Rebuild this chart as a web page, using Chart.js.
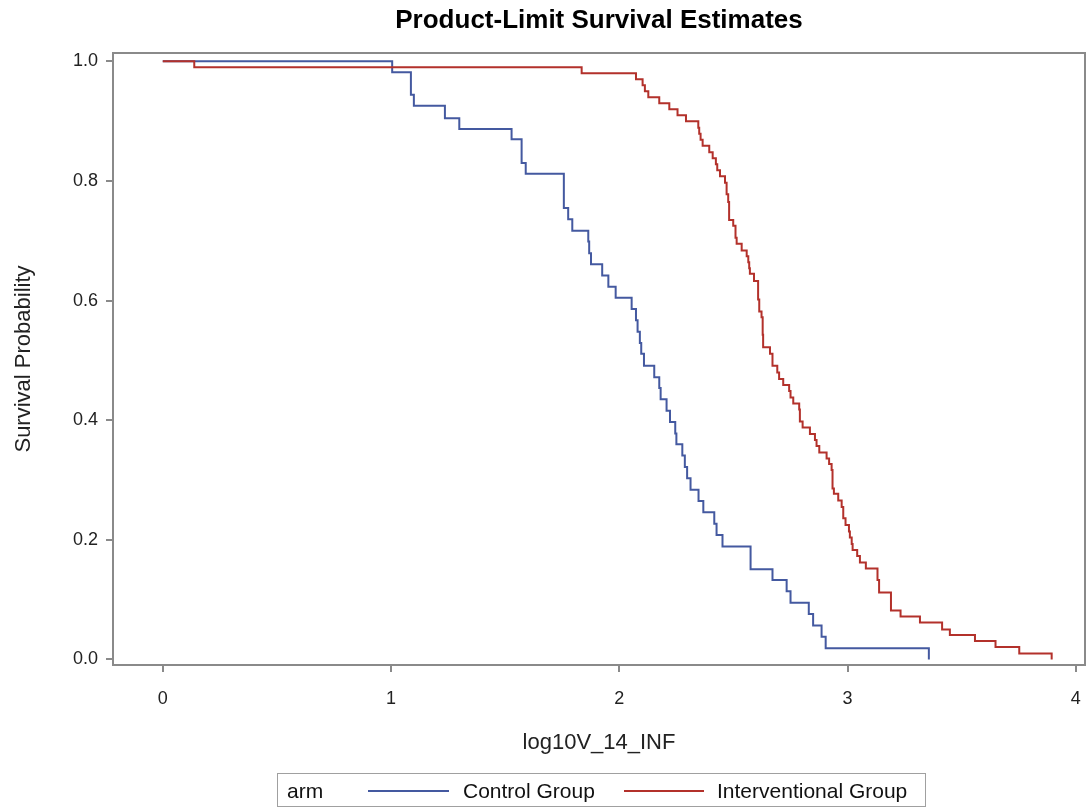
<!DOCTYPE html>
<html>
<head>
<meta charset="utf-8">
<title>Product-Limit Survival Estimates</title>
<script src="https://cdn.jsdelivr.net/npm/chart.js@4.4.1/dist/chart.umd.min.js"></script>
<style>
  body { margin: 0; background: #fff; font-family: 'Liberation Sans', Arial, sans-serif; }
  #wrap { position: relative; width: 1092px; height: 807px; }
  #legend { position: absolute; left: 277px; top: 773px; width: 647px; height: 32px;
            border: 1px solid #a0a0a0; font-size: 21px; color: #111; }
  #legend span { position: absolute; top: 5px; white-space: nowrap; }
  #legend i { position: absolute; top: 16px; height: 2px; display: block; }
</style>
</head>
<body>
<div id="wrap">
  <canvas id="kmChart" width="1092" height="807"></canvas>
  <div id="legend"></div>
</div>
<script>
// Kaplan-Meier estimates, time on log10 scale
const armNames = ['Control Group', 'Interventional Group'];
const armColors = ['#4459a0', '#b3312b'];

const controlTime = [0, 1.005, 1.087, 1.100, 1.236, 1.299, 1.528, 1.572, 1.590, 1.757, 1.776, 1.794,
  1.864, 1.868, 1.876, 1.925, 1.952, 1.984, 2.054, 2.073, 2.080, 2.090, 2.096, 2.108, 2.153, 2.175,
  2.181, 2.207, 2.222, 2.245, 2.250, 2.276, 2.287, 2.297, 2.312, 2.347, 2.368, 2.416, 2.426, 2.452,
  2.575, 2.671, 2.733, 2.750, 2.830, 2.849, 2.886, 2.904, 3.356];
const controlSurv = [1.000, 0.982, 0.944, 0.926, 0.905, 0.887, 0.870, 0.830, 0.812, 0.755, 0.736, 0.717,
  0.699, 0.679, 0.661, 0.642, 0.623, 0.605, 0.586, 0.567, 0.548, 0.529, 0.511, 0.491, 0.472, 0.454,
  0.435, 0.416, 0.397, 0.378, 0.360, 0.341, 0.322, 0.303, 0.284, 0.265, 0.246, 0.227, 0.208, 0.189,
  0.151, 0.133, 0.114, 0.095, 0.076, 0.057, 0.038, 0.019, 0.000];

const interventionTime = [0, 0.138, 1.835, 2.073, 2.102, 2.112, 2.127, 2.175, 2.219, 2.255, 2.292,
  2.346, 2.350, 2.356, 2.365, 2.394, 2.409, 2.423, 2.429, 2.441, 2.463, 2.470, 2.477, 2.481, 2.499,
  2.509, 2.514, 2.536, 2.558, 2.565, 2.569, 2.572, 2.590, 2.608, 2.613, 2.623, 2.628, 2.630, 2.660,
  2.671, 2.692, 2.700, 2.718, 2.744, 2.750, 2.762, 2.788, 2.791, 2.803, 2.835, 2.857, 2.864, 2.876,
  2.908, 2.919, 2.930, 2.934, 2.940, 2.959, 2.974, 2.981, 2.991, 3.006, 3.010, 3.018, 3.022, 3.042,
  3.054, 3.080, 3.131, 3.138, 3.190, 3.232, 3.317, 3.414, 3.448, 3.558, 3.648, 3.752, 3.894];
const interventionSurv = [1.000, 0.990, 0.980, 0.970, 0.960, 0.950, 0.940, 0.930, 0.920, 0.910, 0.900,
  0.889, 0.879, 0.869, 0.859, 0.848, 0.838, 0.828, 0.818, 0.808, 0.797, 0.778, 0.765, 0.735, 0.725,
  0.705, 0.695, 0.684, 0.674, 0.664, 0.654, 0.645, 0.633, 0.602, 0.582, 0.572, 0.543, 0.522, 0.511,
  0.491, 0.480, 0.469, 0.459, 0.449, 0.438, 0.428, 0.418, 0.398, 0.388, 0.377, 0.367, 0.357, 0.346,
  0.336, 0.327, 0.317, 0.286, 0.277, 0.266, 0.255, 0.236, 0.225, 0.214, 0.204, 0.193, 0.183, 0.173,
  0.162, 0.152, 0.133, 0.112, 0.082, 0.072, 0.062, 0.050, 0.041, 0.031, 0.021, 0.010, 0.000];

const xTicks = [0, 1, 2, 3, 4];
const yTicks = [0, 0.2, 0.4, 0.6, 0.8, 1.0];

const frameColor = '#8a8a8a';
const textColor = '#222';
const fontFamily = "'Liberation Sans', Arial, sans-serif";

function toPoints(t, s) {
  return t.map((x, i) => ({ x: x, y: s[i] }));
}

// title centred over the plot area, plus the top/right sides of the frame
const framePlugin = {
  id: 'frame',
  beforeDatasetsDraw(chart) {
    const a = chart.chartArea, c = chart.ctx;
    c.save();
    c.strokeStyle = frameColor;
    c.lineWidth = 2;
    c.beginPath();
    c.moveTo(a.left, a.top);
    c.lineTo(a.right, a.top);
    c.lineTo(a.right, a.bottom);
    c.stroke();
    c.restore();
  },
  afterDraw(chart) {
    const a = chart.chartArea, c = chart.ctx;
    c.save();
    c.fillStyle = '#000';
    c.font = 'bold 26px ' + fontFamily;
    c.textAlign = 'center';
    c.textBaseline = 'middle';
    c.fillText('Product-Limit Survival Estimates', (a.left + a.right) / 2, 21);
    c.restore();
  }
};

// stepped 'before': hold the previous survival value until the next event time, then drop
new Chart(document.getElementById('kmChart'), {
  type: 'line',
  data: {
    datasets: [{
      label: armNames[0],
      data: toPoints(controlTime, controlSurv),
      borderColor: armColors[0],
      borderWidth: 2,
      stepped: 'before',
      pointRadius: 0,
      fill: false,
      order: 2
    }, {
      label: armNames[1],
      data: toPoints(interventionTime, interventionSurv),
      borderColor: armColors[1],
      borderWidth: 2,
      stepped: 'before',
      pointRadius: 0,
      fill: false,
      order: 1
    }]
  },
  options: {
    responsive: false,
    animation: false,
    layout: { padding: { left: 0, right: 7, top: 53, bottom: 47 } },
    plugins: {
      legend: { display: false },
      tooltip: { enabled: false },
      title: { display: false }
    },
    scales: {
      x: {
        type: 'linear',
        min: -0.218,
        max: 4.04,
        afterBuildTicks: s => { s.ticks = xTicks.map(v => ({ value: v })); },
        afterFit: s => {
          s.height = 95;
          s.paddingLeft = 0;
          s.paddingRight = 0;
        },
        ticks: {
          color: textColor,
          font: { family: fontFamily, size: 18 },
          padding: 16,
          maxRotation: 0,
          callback: v => String(v)
        },
        grid: { drawOnChartArea: false, tickLength: 7, color: frameColor, lineWidth: 2 },
        border: { color: frameColor, width: 2 },
        title: {
          display: true,
          text: 'log10V_14_INF',
          color: textColor,
          font: { family: fontFamily, size: 22 },
          padding: { top: 0, bottom: 4 }
        }
      },
      y: {
        type: 'linear',
        min: -0.0092,
        max: 1.014,
        afterBuildTicks: s => { s.ticks = yTicks.map(v => ({ value: v })); },
        afterFit: s => {
          s.width = 113;
          s.paddingTop = 0;
          s.paddingBottom = 0;
        },
        ticks: {
          color: textColor,
          font: { family: fontFamily, size: 18 },
          padding: 8,
          callback: v => v.toFixed(1)
        },
        grid: { drawOnChartArea: false, tickLength: 7, color: frameColor, lineWidth: 2 },
        border: { color: frameColor, width: 2 },
        title: {
          display: true,
          text: 'Survival Probability',
          color: textColor,
          font: { family: fontFamily, size: 22 },
          padding: { top: 11, bottom: 0 }
        }
      }
    }
  },
  plugins: [framePlugin]
});

// legend box below the axis: group title followed by the two arms
const legend = document.getElementById('legend');
const legendItems = [
  ['span', 'arm', 9],
  ['i', armColors[0], 90, 81],
  ['span', armNames[0], 185],
  ['i', armColors[1], 346, 80],
  ['span', armNames[1], 439]
];
legendItems.forEach(it => {
  const el = document.createElement(it[0]);
  el.style.left = it[2] + 'px';
  if (it[0] === 'i') {
    el.style.width = it[3] + 'px';
    el.style.background = it[1];
  } else {
    el.textContent = it[1];
  }
  legend.appendChild(el);
});
</script>
</body>
</html>
